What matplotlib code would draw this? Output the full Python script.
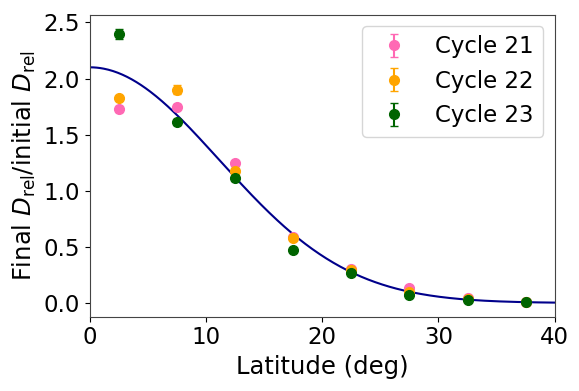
import numpy as np
import matplotlib
matplotlib.use('Agg')
import matplotlib.pyplot as plt

# Latitude bins (deg)
latitude = [2.5, 7.5, 12.5, 17.5, 22.5, 27.5, 32.5, 37.5]

# Ratio of final to initial D_rel per cycle
cycle21 = [1.73, 1.75, 1.245, 0.59, 0.30, 0.13, 0.045, 0.010]
cycle21_err = [0.025, 0.025, 0.020, 0.015, 0.010, 0.010, 0.005, 0.005]
cycle22 = [1.825, 1.90, 1.175, 0.58, 0.29, 0.10, 0.035, 0.008]
cycle22_err = [0.020, 0.040, 0.020, 0.020, 0.010, 0.010, 0.005, 0.005]
cycle23 = [2.40, 1.615, 1.11, 0.47, 0.265, 0.075, 0.027, 0.005]
cycle23_err = [0.045, 0.025, 0.020, 0.015, 0.010, 0.010, 0.005, 0.005]

# Gaussian model fit
amp = 2.1
sigma = 11.15

plt.rcParams['font.size'] = 16.5
fig, ax = plt.subplots(figsize=(5.79, 3.91), dpi=100)
fig.subplots_adjust(left=0.155, right=0.958, top=0.962, bottom=0.19)

x = np.linspace(0, 40, 400)
ax.plot(x, amp * np.exp(-x**2 / (2 * sigma**2)), color='darkblue', lw=1.5)

ax.errorbar(latitude, cycle21, yerr=cycle21_err, fmt='o', color='hotpink',
            ms=7, capsize=3, label='Cycle 21')
ax.errorbar(latitude, cycle22, yerr=cycle22_err, fmt='o', color='orange',
            ms=7, capsize=3, label='Cycle 22')
ax.errorbar(latitude, cycle23, yerr=cycle23_err, fmt='o', color='darkgreen',
            ms=7, capsize=3, label='Cycle 23')

ax.set_xlim(0, 40)
ax.set_xlabel('Latitude (deg)', fontsize=17.5)
ax.set_ylabel(r'Final $D_{\rm rel}$/initial $D_{\rm rel}$', fontsize=17.5)
ax.legend(loc='upper right', fontsize=16.5)
for s in ax.spines.values():
    s.set_color('#444444')

plt.savefig('out.png')
